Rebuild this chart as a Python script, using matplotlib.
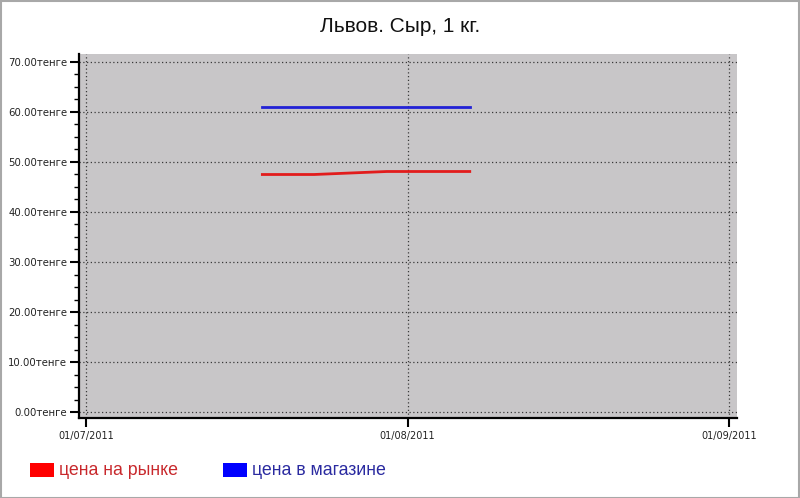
import matplotlib
matplotlib.use("Agg")
import matplotlib.pyplot as plt
import matplotlib.dates as mdates
from matplotlib.patches import Rectangle
from matplotlib.ticker import MultipleLocator, FuncFormatter
import datetime as dt

title = "Львов. Сыр, 1 кг."
dates = [dt.date(2011, 7, 18), dt.date(2011, 7, 23), dt.date(2011, 7, 30), dt.date(2011, 8, 7)]
market = [47.5, 47.5, 48.1, 48.1]
store = [61.0, 61.0, 61.0, 61.0]
series_names = ["цена на рынке", "цена в магазине"]
x_ticks = [dt.date(2011, 7, 1), dt.date(2011, 8, 1), dt.date(2011, 9, 1)]
y_ticks = [0, 10, 20, 30, 40, 50, 60, 70]

W, H = 800, 498
fig = plt.figure(figsize=(W / 100, H / 100), dpi=100)
fig.patch.set_facecolor("white")
# outer frame
fig.patches.append(Rectangle((0.5 / W, 0.5 / H), 1 - 1.5 / W, 1 - 1.5 / H, transform=fig.transFigure,
                             fill=False, edgecolor="#a8a8a8", linewidth=1.5))

ax = fig.add_axes([79 / W, 80 / H, (737 - 79) / W, (418 - 54) / H])
ax.set_facecolor("#c8c6c8")

ax.plot(dates, market, color="#e21c1c", linewidth=2)
ax.plot(dates, store, color="#2222d6", linewidth=2)

xt = mdates.date2num(x_ticks)
ax.set_xlim(xt[0] - 0.68, xt[-1] + 0.77)
ax.set_ylim(-1.2, 71.6)
ax.set_xticks(xt)
ax.set_xticklabels([d.strftime("%d/%m/%Y") for d in x_ticks], fontsize=7, family="DejaVu Sans", color="#222222")
ax.set_yticks(y_ticks)
ax.yaxis.set_major_formatter(FuncFormatter(lambda v, p: f"{v:.2f}тенге"))
ax.yaxis.set_minor_locator(MultipleLocator(2.5))
for lab in ax.get_yticklabels():
    lab.set_fontsize(7.3)
    lab.set_color("#222222")

ax.grid(True, which="major", linestyle=(0, (1, 2)), color="#3a3a3a", linewidth=0.9)
ax.set_axisbelow(True)

for s in ["top", "right"]:
    ax.spines[s].set_visible(False)
for s in ["left", "bottom"]:
    ax.spines[s].set_linewidth(1.6)
    ax.spines[s].set_color("black")

ax.tick_params(axis="y", which="major", length=6.5, width=1.5, pad=2)
ax.tick_params(axis="y", which="minor", length=3.5, width=1.0)
ax.tick_params(axis="x", which="major", length=6.5, width=1.5, pad=2.5)

fig.text(0.5, 1 - 27 / H, title, ha="center", va="center", fontsize=15, family="Liberation Sans", color="#111111")

# legend
leg_colors = ["#ff0000", "#0000ff"]
leg_text_colors = ["#c8282c", "#2a2aa0"]
leg_x = [30, 223]
for name, c, tc, x0 in zip(series_names, leg_colors, leg_text_colors, leg_x):
    fig.patches.append(Rectangle((x0 / W, 1 - 477 / H), 24 / W, 14 / H, transform=fig.transFigure,
                                 facecolor=c, edgecolor="none"))
    fig.text((x0 + 29) / W, 1 - 470 / H, name, ha="left", va="center", fontsize=12.8,
             family="Liberation Sans", color=tc)

fig.savefig("out.png", dpi=100)
